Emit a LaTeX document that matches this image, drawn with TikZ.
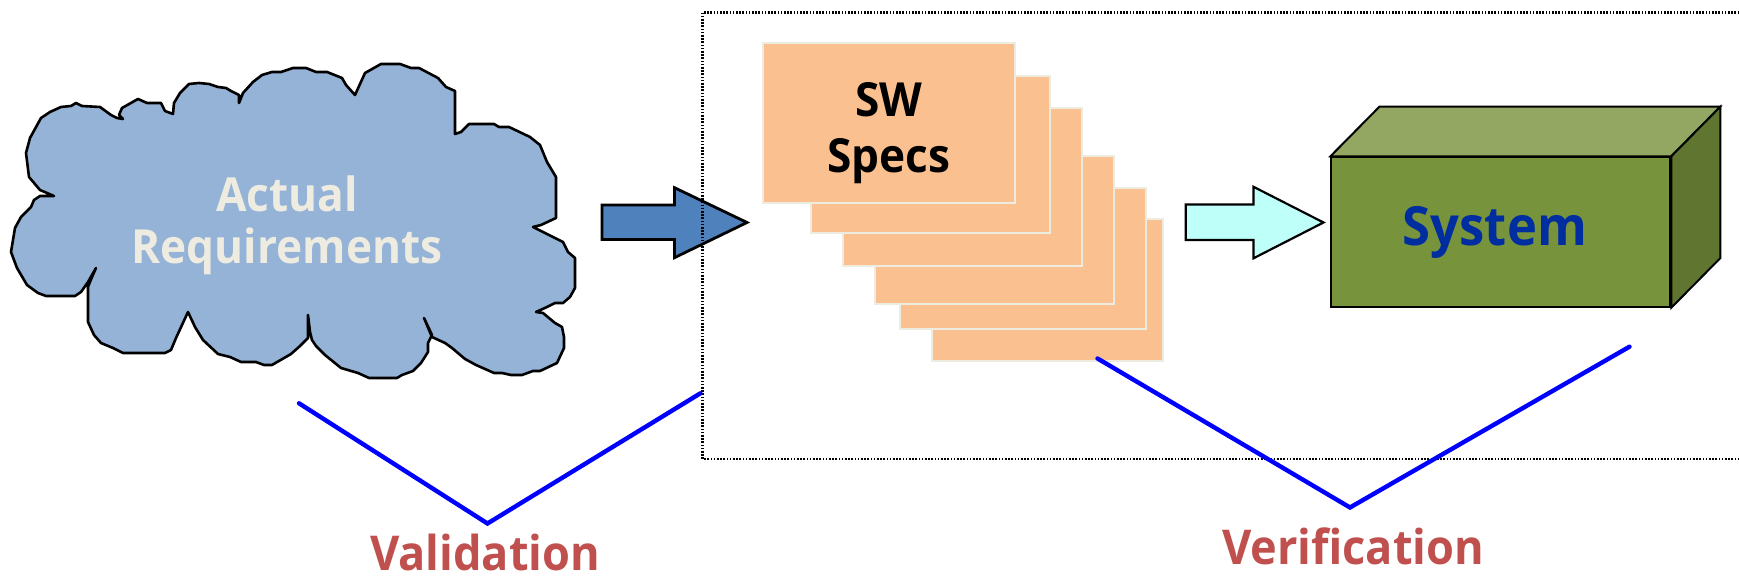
\documentclass[tikz,border=0pt]{standalone}
\usepackage{fontspec}
\setmainfont{Open Sans}[FakeStretch=0.94]
\usetikzlibrary{positioning}
\definecolor{cloudblue}{RGB}{149,179,215}
\definecolor{arrowblue}{RGB}{79,129,189}
\definecolor{specorange}{RGB}{250,192,144}
\definecolor{specedge}{RGB}{238,236,225}
\definecolor{textcream}{RGB}{238,236,225}
\definecolor{arrowcyan}{RGB}{191,255,250}
\definecolor{sysfront}{RGB}{119,147,60}
\definecolor{systop}{RGB}{147,167,98}
\definecolor{sysside}{RGB}{95,117,48}
\definecolor{systext}{RGB}{0,45,160}
\definecolor{checkred}{RGB}{192,80,77}
\definecolor{checkblue}{RGB}{0,0,255}

\begin{document}
\begin{tikzpicture}[x=0.5pt,y=-0.5pt]
    \tikzset{specbox/.style={rectangle,draw=specedge,fill=specorange,line width=1pt,inner sep=0pt}}
    \tikzset{blockarrow/.style={draw=black,line width=1.4pt,line join=miter}}
    \tikzset{vline/.style={draw=checkblue,line width=2.2pt,line cap=round}}
    \tikzset{bigtext/.style={font=\fontsize{23.5}{26}\selectfont\bfseries,align=center}}
    \tikzset{checklabel/.style={font=\fontsize{24}{28}\selectfont\bfseries,text=checkred,anchor=base,inner sep=0pt}}
    \useasboundingbox (0,0) rectangle (1739,581);

    % Cloud
    \draw[fill=cloudblue,line width=1.3pt,line join=round]
    (54,196) -- (40,190) -- (29,177) -- (26,153) -- (30,138) -- (41,118) -- (50,112) -- (61,107)
    -- (71,106) -- (76,103) -- (82,106) -- (100,107) -- (111,115) -- (117,118) -- (123,119)
    -- (119,115) -- (122,108) -- (138,99) -- (147,103) -- (161,103) -- (165,111) -- (173,114)
    -- (174,103) -- (180,93) -- (189,84) -- (199,83) -- (209,84) -- (218,87) -- (226,88)
    -- (231,91) -- (239,95) -- (239,103) -- (243,93) -- (253,82) -- (262,75) -- (272,72)
    -- (281,72) -- (293,68) -- (306,68) -- (316,72) -- (327,72) -- (342,78) -- (346,85)
    -- (355,95) -- (365,73) -- (381,64) -- (400,64) -- (411,68) -- (419,68) -- (438,78)
    -- (446,87) -- (455,91) -- (455,134) -- (461,132) -- (469,124) -- (494,124) -- (499,127)
    -- (509,127) -- (530,137) -- (540,145) -- (547,162) -- (556,177) -- (556,218) -- (541,225)
    -- (533,227) -- (563,242) -- (568,252) -- (575,258) -- (575,288) -- (570,297) -- (563,303)
    -- (555,303) -- (547,307) -- (536,312) -- (543,313) -- (555,323) -- (562,327) -- (564,337)
    -- (564,348) -- (557,363) -- (540,371) -- (533,371) -- (522,375) -- (511,375) -- (502,373)
    -- (494,373) -- (476,365) -- (465,359) -- (452,348) -- (445,343) -- (432,337) -- (424,318)
    -- (432,335) -- (428,343) -- (428,352) -- (421,363) -- (413,371) -- (402,375) -- (397,378)
    -- (369,378) -- (358,373) -- (341,368) -- (325,355) -- (316,346) -- (312,340) -- (310,332)
    -- (308,315) -- (308,338) -- (300,346) -- (291,354) -- (272,365) -- (264,365) -- (256,362)
    -- (241,362) -- (230,357) -- (218,354) -- (203,340) -- (195,327) -- (188,312) -- (176,338)
    -- (171,350) -- (165,353) -- (123,353) -- (113,348) -- (101,343) -- (94,335) -- (88,322)
    -- (88,287) -- (92,277) -- (96,268) -- (88,282) -- (81,292) -- (75,296) -- (46,296)
    -- (38,293) -- (27,285) -- (17,268) -- (11,252) -- (13,240) -- (15,228) -- (21,217)
    -- (31,207) -- (34,200) -- (40,196) -- cycle;
    \node[bigtext, text=textcream] (actual) at (287,225) {Actual\\Requirements};

    % Arrow into the specs
    \draw[blockarrow, fill=arrowblue] (602,205) -- (674.5,205) -- (674.5,187.7) -- (747,222.5)
    -- (674.5,257.7) -- (674.5,239.5) -- (602,239.5) -- cycle;

    % Frame
    \draw[black, line width=1.1pt, dash pattern=on 0.8pt off 0.8pt] (702.5,12.6) rectangle (1760,459);

    % Stack of specs
    \node[specbox, minimum width=115.25pt, minimum height=70.85pt] (spec6) at (1047.25,290.15) {};
    \node[specbox, minimum width=123.2pt, minimum height=70.8pt] (spec5) at (1023.2,258.5) {};
    \node[specbox, minimum width=119.4pt, minimum height=74pt] (spec4) at (994.8,230) {};
    \node[specbox, minimum width=119.35pt, minimum height=78.7pt] (spec3) at (962.65,187) {};
    \node[specbox, minimum width=119.6pt, minimum height=78.65pt] (spec2) at (930.4,154.65) {};
    \node[specbox, minimum width=126.25pt, minimum height=79.7pt] (spec1) at (888.75,123) {};
    \node[bigtext, font=\fontsize{23.5}{28.3}\selectfont\bfseries] (specs) at ([yshift=-5pt]spec1.center) {SW\\Specs};

    % Arrow into the system
    \draw[blockarrow, line width=1.1pt, fill=arrowcyan] (1185.7,204.5) -- (1253.5,204.5) -- (1253.5,186.8)
    -- (1323.5,222.5) -- (1253.5,258.3) -- (1253.5,240) -- (1185.7,240) -- cycle;

    % System box
    \node[draw=black, line width=1pt, fill=sysfront, minimum width=169.45pt, minimum height=74.7pt] (system) at (1500.85,232) {};
    \draw[fill=systop, line width=1pt, line join=miter] (system.north west) -- ++(49,-49.6)
    -- ([shift={(49,-49.6)}]system.north east) -- (system.north east) -- cycle;
    \draw[fill=sysside, line width=1pt, line join=miter] (system.north east) -- ++(49,-49.6)
    -- ([shift={(49,-49.6)}]system.south east) -- (system.south east) -- cycle;
    \node[font=\fontsize{27}{30}\selectfont\bfseries, text=systext] (system label) at ([xshift=-3pt]system.center) {System};

    % Validation and verification
    \coordinate (val left) at (299,403.3);
    \coordinate (val low) at (487.5,523.5);
    \coordinate (val right) at (700.4,393.3);
    \coordinate (ver left) at (1097.5,358.5);
    \coordinate (ver low) at (1350,507.5);
    \coordinate (ver right) at (1629.5,346.7);
    \draw[vline] (val left) -- (val low) -- (val right);
    \draw[vline] (ver left) -- (ver low) -- (ver right);
    \node[checklabel] (validation) at (485,571) {Validation};
    \node[checklabel] (verification) at (1353,565) {Verification};
\end{tikzpicture}
\end{document}
